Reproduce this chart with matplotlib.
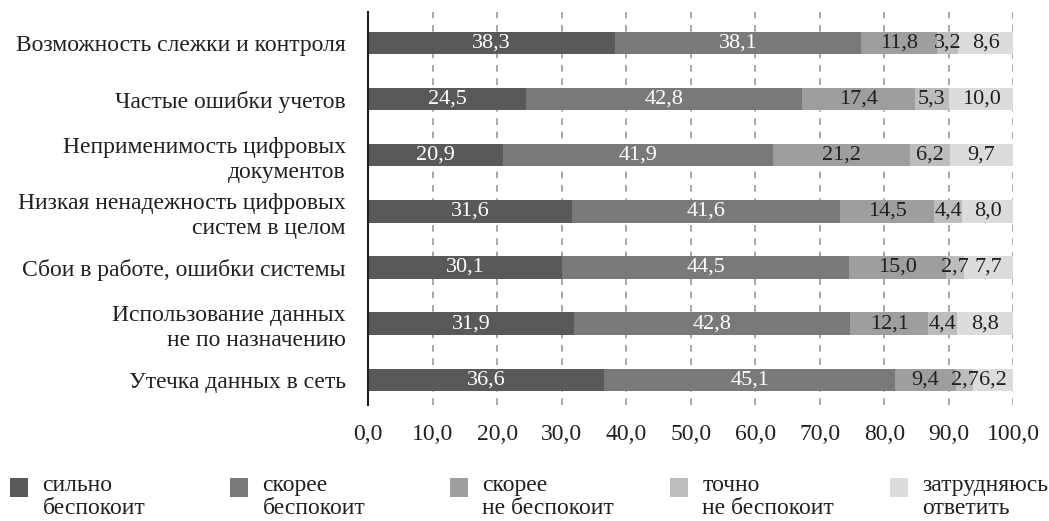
import matplotlib.pyplot as plt
from matplotlib.patches import Rectangle

plt.rcParams['font.family'] = ['Liberation Serif', 'DejaVu Serif']

# categories, bottom to top
categories = [
    "Утечка данных в сеть",
    "Использование данных\nне по назначению",
    "Сбои в работе, ошибки системы",
    "Низкая ненадежность цифровых\nсистем в целом",
    "Неприменимость цифровых\nдокументов",
    "Частые ошибки учетов",
    "Возможность слежки и контроля",
]

strongly = [36.6, 31.9, 30.1, 31.6, 20.9, 24.5, 38.3]
rather = [45.1, 42.8, 44.5, 41.6, 41.9, 42.8, 38.1]
rather_not = [9.4, 12.1, 15.0, 14.5, 21.2, 17.4, 11.8]
not_at_all = [2.7, 4.4, 2.7, 4.4, 6.2, 5.3, 3.2]
hard_to_say = [6.2, 8.8, 7.7, 8.0, 9.7, 10.0, 8.6]

series = [strongly, rather, rather_not, not_at_all, hard_to_say]
series_names = ["сильно\nбеспокоит", "скорее\nбеспокоит", "скорее\nне беспокоит",
                "точно\nне беспокоит", "затрудняюсь\nответить"]
colors = ["#59595b", "#79797b", "#9e9ea0", "#bdbdbf", "#dcdcdd"]
text_colors = ["white", "white", "#231f20", "#231f20", "#231f20"]

xticks = list(range(0, 101, 10))

fig = plt.figure(figsize=(10.49, 5.21), dpi=100)
ax = fig.add_axes([0.351, 0.2226, 0.615, 0.7544])

ypos = range(len(categories))
left = [0.0] * len(categories)
for vals, col, tcol in zip(series, colors, text_colors):
    ax.barh(ypos, vals, left=left, height=0.4, color=col, zorder=3)
    for y, (l, v) in enumerate(zip(left, vals)):
        ax.text(l + v / 2, y, f"{v:.1f}".replace(".", ","), ha="center", va="center",
                color=tcol, fontsize=16, zorder=4)
    left = [l + v for l, v in zip(left, vals)]

ax.set_xlim(0, 100)
ax.set_ylim(-0.45, 6.55)
ax.set_xticks(xticks)
ax.set_xticklabels([f"{t:.1f}".replace(".", ",") for t in xticks], fontsize=17, color="#231f20")
ax.set_yticks(list(ypos))
ax.set_yticklabels(categories, fontsize=17, color="#231f20", linespacing=1.27)
ax.tick_params(axis="both", length=0)
ax.tick_params(axis="y", pad=16)
ax.tick_params(axis="x", pad=14)
ax.xaxis.grid(True, linestyle=(0, (4, 4)), color="#9a9a9a", linewidth=1.2, zorder=0)
for s in ["top", "right", "bottom"]:
    ax.spines[s].set_visible(False)
ax.spines["left"].set_color("#231f20")
ax.spines["left"].set_linewidth(1.5)
ax.spines["left"].set_zorder(5)

# legend row along the bottom
for i, (name, col) in enumerate(zip(series_names, colors)):
    x0 = 0.0095 + i * 0.2097
    fig.patches.append(Rectangle((x0, 0.046), 0.0172, 0.0365, transform=fig.transFigure,
                                 facecolor=col, edgecolor="none"))
    fig.text(x0 + 0.031, 0.088, name, ha="left", va="top", fontsize=17,
             color="#231f20", linespacing=1.12)

fig.savefig("out.png", dpi=100)
